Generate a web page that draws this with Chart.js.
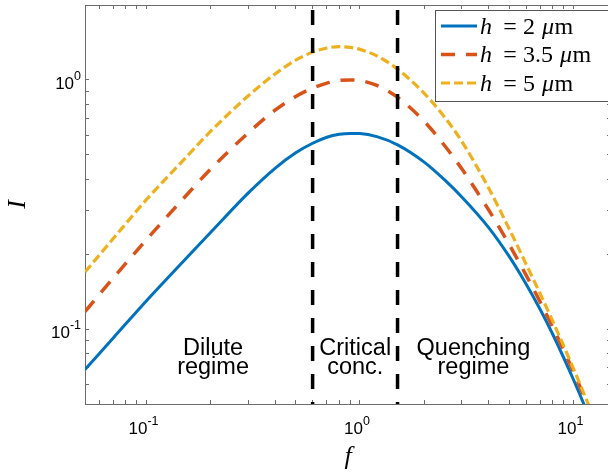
<!DOCTYPE html>
<html>
<head>
<meta charset="utf-8">
<script src="https://cdn.jsdelivr.net/npm/chart.js@4.4.0/dist/chart.umd.min.js"></script>
<style>
  html, body { margin: 0; padding: 0; background: #fff; overflow: hidden; }
  #wrap { width: 614px; height: 473px; position: relative; }
</style>
</head>
<body>
<div id="wrap"><canvas id="chart"></canvas></div>
<script>
// Valores (escala log-log)
const fValues = [0.0515, 0.07, 0.1, 0.15, 0.2, 0.3, 0.4, 0.5, 0.6, 0.7, 0.8, 0.9, 1.0, 1.2, 1.5, 2, 2.5, 3, 4, 5, 6, 7, 8, 10, 12];
const intensityH2 = [0.0688, 0.0923, 0.130, 0.1885, 0.2446, 0.352, 0.4418, 0.510, 0.557, 0.589, 0.605, 0.610, 0.609, 0.592, 0.549, 0.468, 0.396, 0.339, 0.256, 0.1958, 0.1518, 0.1195, 0.0953, 0.0627, 0.0433];
const intensityH35 = [0.1175, 0.1606, 0.2287, 0.3365, 0.4393, 0.6133, 0.7568, 0.8577, 0.9275, 0.971, 0.9954, 1.0, 0.9945, 0.9507, 0.852, 0.6817, 0.543, 0.4396, 0.3015, 0.2186, 0.1647, 0.128, 0.1017, 0.0674, 0.0467];
const intensityH5 = [0.1693, 0.2314, 0.331, 0.4801, 0.6228, 0.8647, 1.0568, 1.2008, 1.2937, 1.3434, 1.3608, 1.352, 1.327, 1.249, 1.1055, 0.8834, 0.7066, 0.5666, 0.3693, 0.2526, 0.1823, 0.138, 0.1075, 0.0694, 0.0477];
const heightLabels = ['2', '3.5', '5'];

// Límites de régimen y textos
const regimeBounds = [0.6, 1.5];
const regimeText = [['Dilute', 'regime'], ['Critical', 'conc.'], ['Quenching', 'regime']];
const regimeTextF = [0.205, 0.95, 3.4];
const regimeTextI = [0.0787, 0.066];

// Ejes
const xRange = [0.0515, 15];
const yRange = [0.05, 2];
const xMajorTicks = [0.1, 1, 10];
const xMinorTicks = [0.06, 0.07, 0.08, 0.09, 0.2, 0.3, 0.4, 0.5, 0.6, 0.7, 0.8, 0.9, 2, 3, 4, 5, 6, 7, 8, 9];
const yMajorTicks = [0.1, 1];
const yMinorTicks = [0.06, 0.07, 0.08, 0.09, 0.2, 0.3, 0.4, 0.5, 0.6, 0.7, 0.8, 0.9, 2];

const colorBlue = '#0072BD';
const colorRed = '#D95319';
const colorYellow = '#EDB120';
const axisColor = '#6b6b6b';

const toPoints = (ys) => fValues.map((f, i) => ({ x: f, y: ys[i] }));

function curve(ys, color, width, dash, order, h) {
    return {
        data: toPoints(ys),
        borderColor: color,
        borderWidth: width,
        borderDash: dash,
        pointRadius: 0,
        fill: false,
        cubicInterpolationMode: 'monotone',
        order: order,
        legendH: h
    };
}

function vline(f) {
    return {
        data: [{ x: f, y: yRange[1] }, { x: f, y: yRange[0] }],
        borderColor: '#000',
        borderWidth: 3.5,
        borderDash: [15, 13],
        borderDashOffset: 23,
        pointRadius: 0,
        tension: 0,
        order: 0
    };
}

// 10^n con superíndice
function drawPower(ctx, x, y, value, align) {
    const exp = String(Math.round(Math.log10(value)));
    const baseFont = '17px "Liberation Sans", Arial, sans-serif';
    const expFont = '12.5px "Liberation Sans", Arial, sans-serif';
    ctx.font = baseFont;
    const wb = ctx.measureText('10').width;
    ctx.font = expFont;
    const we = ctx.measureText(exp).width;
    const start = align === 'center' ? x - (wb + we) / 2 - 3 : x - wb - we;
    ctx.textAlign = 'left';
    ctx.textBaseline = 'middle';
    ctx.font = baseFont;
    ctx.fillText('10', start, y);
    ctx.font = expFont;
    ctx.fillText(exp, start + wb, y - 7.5);
}

const figureText = {
    id: 'figureText',
    afterDraw(chart) {
        const ctx = chart.ctx;
        const xs = chart.scales.x;
        const ys = chart.scales.y;
        ctx.save();
        ctx.fillStyle = '#000';

        xMajorTicks.forEach(v => drawPower(ctx, xs.getPixelForValue(v), xs.top + 25, v, 'center'));
        yMajorTicks.forEach(v => drawPower(ctx, ys.right - 4, ys.getPixelForValue(v) + 4, v, 'right'));

        // Textos de régimen
        ctx.font = '23.5px "Liberation Sans", Arial, sans-serif';
        ctx.textAlign = 'center';
        ctx.textBaseline = 'alphabetic';
        regimeText.forEach((lines, i) => {
            const px = xs.getPixelForValue(regimeTextF[i]);
            lines.forEach((t, j) => ctx.fillText(t, px, ys.getPixelForValue(regimeTextI[j])));
        });

        // Leyenda
        const box = { left: 435.5, top: 10.5, right: 640, bottom: 101.5 };
        ctx.fillStyle = '#fff';
        ctx.fillRect(box.left, box.top, box.right - box.left, box.bottom - box.top);
        ctx.strokeStyle = '#555';
        ctx.lineWidth = 1;
        ctx.strokeRect(box.left, box.top, box.right - box.left, box.bottom - box.top);

        const rows = [26, 54.5, 83];
        const curves = chart.data.datasets.filter(d => d.legendH !== undefined);
        curves.forEach((d, i) => {
            const y = rows[i];
            ctx.save();
            ctx.strokeStyle = d.borderColor;
            ctx.lineWidth = d.borderWidth;
            ctx.setLineDash(d.borderDash || []);
            ctx.beginPath();
            ctx.moveTo(441, y);
            ctx.lineTo(477, y);
            ctx.stroke();
            ctx.restore();

            const base = y + 7.5;
            const serif = '"Liberation Serif", "Times New Roman", serif';
            ctx.fillStyle = '#000';
            ctx.textBaseline = 'alphabetic';
            ctx.textAlign = 'left';
            ctx.font = 'italic 24px ' + serif;
            ctx.fillText('h', 480, base);
            ctx.font = '24px ' + serif;
            ctx.textAlign = 'center';
            ctx.fillText('=', 510, base);
            ctx.textAlign = 'left';
            ctx.fillText(d.legendH, 523, base);
            let x = 523 + ctx.measureText(d.legendH).width + 7;
            ctx.font = 'italic 24px ' + serif;
            ctx.fillText('μ', x, base);
            x += ctx.measureText('μ').width + 0.5;
            ctx.font = '24px ' + serif;
            ctx.fillText('m', x, base);
        });
        ctx.restore();
    }
};

function axisOpts(position, range, ticks, size, title) {
    const horizontal = position === 'top' || position === 'bottom';
    return {
        type: 'logarithmic',
        position: position,
        min: range[0],
        max: range[1],
        afterBuildTicks: s => { s.ticks = ticks.map(v => ({ value: v })); },
        afterFit: s => { if (horizontal) s.height = size; else s.width = size; },
        grid: { drawOnChartArea: false, drawTicks: true, tickLength: -4, color: axisColor, lineWidth: 1 },
        border: { display: true, color: axisColor, width: 1 },
        ticks: { display: false },
        title: title || { display: false }
    };
}

const xTicksAll = xMinorTicks.concat(xMajorTicks).sort((a, b) => a - b);
const yTicksAll = yMinorTicks.concat(yMajorTicks).sort((a, b) => a - b);
const titleFont = { family: '"Liberation Serif", "Times New Roman", serif', style: 'italic', size: 26 };

new Chart(document.getElementById('chart'), {
    type: 'line',
    data: {
        datasets: [
            vline(regimeBounds[0]),
            vline(regimeBounds[1]),
            curve(intensityH2, colorBlue, 3, [], 3, heightLabels[0]),
            curve(intensityH35, colorRed, 3.5, [14, 11], 2, heightLabels[1]),
            curve(intensityH5, colorYellow, 3.2, [9, 4], 1, heightLabels[2])
        ]
    },
    options: {
        responsive: true,
        maintainAspectRatio: false,
        animation: false,
        layout: { padding: { left: 0, right: 3, top: 0, bottom: 0 } },
        plugins: { legend: { display: false }, tooltip: { enabled: false } },
        scales: {
            x: axisOpts('bottom', xRange, xTicksAll, 69,
                { display: true, text: 'f', color: '#000', font: titleFont, padding: { top: 0, bottom: 0 } }),
            x2: axisOpts('top', xRange, xTicksAll, 5),
            y: axisOpts('left', yRange, yTicksAll, 85,
                { display: true, text: 'I', color: '#000', font: titleFont, padding: { top: 2.5, bottom: 0 } }),
            y2: axisOpts('right', yRange, yTicksAll, 0)
        }
    },
    plugins: [figureText]
});
</script>
</body>
</html>
